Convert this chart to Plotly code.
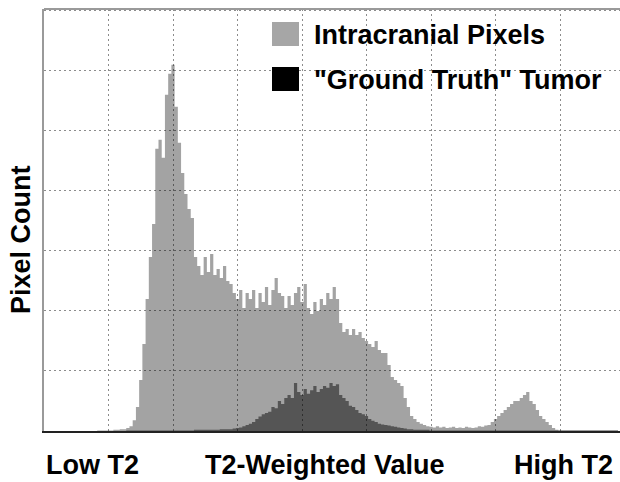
import plotly.graph_objects as go

# ---- data ----
bin_start = 0.0
bin_width = 0.05

intracranial_counts = [
    # 0.00 - 0.95
    0, 0, 0, 0, 0, 0, 0, 0, 0, 0, 0, 0, 0, 0, 0, 0, 0, 0.01, 0.01, 0.01,
    # 1.00 - 1.95
    0.01, 0.01, 0.02, 0.02, 0.03, 0.03, 0.05, 0.08, 0.18, 0.4,
    0.85, 1.45, 2.2, 2.9, 3.45, 4.7, 4.85, 4.55, 5.6, 5.95,
    # 2.00 - 2.95
    6.1, 5.4, 4.8, 4.3, 3.95, 3.7, 3.55, 2.9, 2.75, 2.6,
    2.9, 2.65, 2.95, 2.6, 2.7, 2.55, 2.75, 2.5, 2.45, 2.3,
    # 3.00 - 3.95
    2.2, 2.35, 2.05, 2.3, 2.2, 2.35, 2.05, 2.3, 2.15, 2.4,
    2.1, 2.35, 2.55, 2.3, 2.25, 2.05, 2.25, 2.1, 2.3, 2.4,
    # 4.00 - 4.95
    2.15, 2.45, 2.05, 1.95, 2.15, 2.0, 2.2, 2.1, 2.3, 2.2,
    2.4, 2.2, 1.8, 1.65, 1.7, 1.6, 1.7, 1.6, 1.65, 1.55,
    # 5.00 - 5.95
    1.5, 1.45, 1.4, 1.5, 1.35, 1.3, 1.3, 1.1, 0.9, 0.85,
    0.8, 0.75, 0.55, 0.4, 0.25, 0.2, 0.15, 0.12, 0.1, 0.08,
    # 6.00 - 6.95
    0.07, 0.06, 0.08, 0.06, 0.07, 0.05, 0.06, 0.07, 0.05, 0.06,
    0.05, 0.07, 0.06, 0.05, 0.06, 0.08, 0.07, 0.09, 0.1, 0.15,
    # 7.00 - 7.95
    0.2, 0.25, 0.3, 0.35, 0.4, 0.45, 0.5, 0.5, 0.55, 0.6,
    0.65, 0.5, 0.45, 0.35, 0.25, 0.2, 0.15, 0.1, 0.05, 0.02,
    # 8.00 - 8.90
    0.01, 0.01, 0.01, 0.01, 0.01, 0.01, 0.01, 0.01, 0.01, 0.01,
    0.01, 0.01, 0.01, 0.01, 0.01, 0.01, 0.01, 0.01, 0.01,
]

tumor_counts = [
    # 0.00 - 0.95
    0, 0, 0, 0, 0, 0, 0, 0, 0, 0, 0, 0, 0, 0, 0, 0, 0, 0, 0, 0,
    # 1.00 - 1.95
    0, 0, 0, 0, 0, 0, 0.01, 0.01, 0.01, 0.01,
    0.01, 0.01, 0.01, 0.01, 0.01, 0.01, 0.01, 0.01, 0.01, 0.01,
    # 2.00 - 2.95
    0.01, 0.01, 0.01, 0.01, 0.01, 0.01, 0.01, 0.02, 0.02, 0.02,
    0.02, 0.02, 0.02, 0.02, 0.02, 0.03, 0.03, 0.03, 0.03, 0.04,
    # 3.00 - 3.95
    0.05, 0.06, 0.08, 0.1, 0.12, 0.15, 0.2, 0.24, 0.28, 0.3,
    0.32, 0.4, 0.38, 0.5, 0.45, 0.55, 0.6, 0.55, 0.8, 0.65,
    # 4.00 - 4.95
    0.6, 0.7, 0.62, 0.68, 0.75, 0.65, 0.7, 0.75, 0.72, 0.8,
    0.75, 0.78, 0.6, 0.55, 0.5, 0.42, 0.4, 0.35, 0.3, 0.28,
    # 5.00 - 5.95
    0.25, 0.2, 0.17, 0.15, 0.12, 0.11, 0.1, 0.09, 0.08, 0.07,
    0.06, 0.05, 0.04, 0.03, 0.03, 0.02, 0.02, 0.02, 0.02, 0.02,
    # 6.00 - 6.95
    0.01, 0.01, 0.01, 0.01, 0.01, 0.01, 0.01, 0.01, 0.01, 0.01,
    0.01, 0.01, 0.01, 0.01, 0.01, 0.01, 0.01, 0.01, 0.01, 0.01,
    # 7.00 - 7.95
    0.01, 0.01, 0.01, 0.01, 0.01, 0.01, 0.01, 0.01, 0.01, 0.01,
    0.01, 0.01, 0.01, 0.01, 0.01, 0.01, 0.01, 0.01, 0.01, 0.01,
    # 8.00 - 8.90
    0.01, 0.01, 0.01, 0.01, 0.01, 0.01, 0.01, 0.01, 0.01, 0.01,
    0.01, 0.01, 0.01, 0.01, 0.01, 0.01, 0.01, 0.01, 0.01,
]

x_labels = ["Low T2", "T2-Weighted Value", "High T2"]
y_label = "Pixel Count"
series_names = ["Intracranial Pixels", '"Ground Truth" Tumor']
legend_colors = ["#a6a6a6", "#000000"]

# ---- layout geometry ----
W, H = 620, 482
L, R, T, B = 44, 0, 9, 51
PW, PH = W - L - R, H - T - B
FONT = "Liberation Sans, Arial, sans-serif"
FS = 27


def px(xpix):
    return (xpix - L) / PW


def py(ypix):
    return (H - B - ypix) / PH


fig = go.Figure()
fig.add_trace(go.Scatter(
    x0=bin_start, dx=bin_width, y=intracranial_counts, name=series_names[0],
    mode="lines", line=dict(width=0, shape="hvh"), fill="tozeroy",
    fillcolor="rgba(0,0,0,0.36)", showlegend=False, hoverinfo="skip"))
fig.add_trace(go.Scatter(
    x0=bin_start, dx=bin_width, y=tumor_counts, name=series_names[1],
    mode="lines", line=dict(width=0, shape="hvh"), fill="tozeroy",
    fillcolor="rgba(0,0,0,0.48)", showlegend=False, hoverinfo="skip"))

fig.update_layout(
    width=W, height=H,
    margin=dict(l=L, r=R, t=T, b=B, pad=0),
    paper_bgcolor="white", plot_bgcolor="white",
    showlegend=False,
    font=dict(family=FONT, color="black"),
)
fig.update_xaxes(
    range=[0, 8.93], dtick=1, tick0=0, showticklabels=False, ticks="",
    showgrid=True, gridcolor="#8c8c8c", gridwidth=1, griddash="2px,3px",
    showline=True, linecolor="#222222", linewidth=2, zeroline=False,
)
fig.update_yaxes(
    range=[0, 7.03], dtick=1, tick0=0, showticklabels=False, ticks="",
    showgrid=True, gridcolor="#8c8c8c", gridwidth=1, griddash="2px,3px",
    showline=True, linecolor="#9a9a9a", linewidth=2, zeroline=False,
)

# top frame line
fig.add_shape(type="line", xref="paper", yref="paper", x0=0, x1=1, y0=1, y1=1,
              line=dict(color="#9a9a9a", width=2))

# legend (manual, drawn inside the plot)
leg_rows = [34, 79]
for name, color, yc in zip(series_names, legend_colors, leg_rows):
    fig.add_shape(type="rect", xref="paper", yref="paper",
                  x0=px(272), x1=px(299), y0=py(yc - 12), y1=py(yc + 12),
                  fillcolor=color, line=dict(width=0), layer="above")
    fig.add_annotation(xref="paper", yref="paper", x=px(312), y=py(yc + 1),
                       xanchor="left", yanchor="middle", showarrow=False,
                       text=f"<b>{name}</b>",
                       font=dict(family=FONT, size=FS, color="black"))

# axis texts
for text, xc in zip(x_labels, [92, 325, 563]):
    fig.add_annotation(xref="paper", yref="paper", x=px(xc), y=py(465),
                       xanchor="center", yanchor="middle", showarrow=False,
                       text=f"<b>{text}</b>",
                       font=dict(family=FONT, size=FS, color="black"))

fig.add_annotation(xref="paper", yref="paper", x=px(21), y=py(240),
                   xanchor="center", yanchor="middle", showarrow=False,
                   textangle=-90, text=f"<b>{y_label}</b>",
                   font=dict(family=FONT, size=FS, color="black"))

fig.write_html("out.html", config={"displayModeBar": False},
               post_script="document.body.style.margin='0px';")
